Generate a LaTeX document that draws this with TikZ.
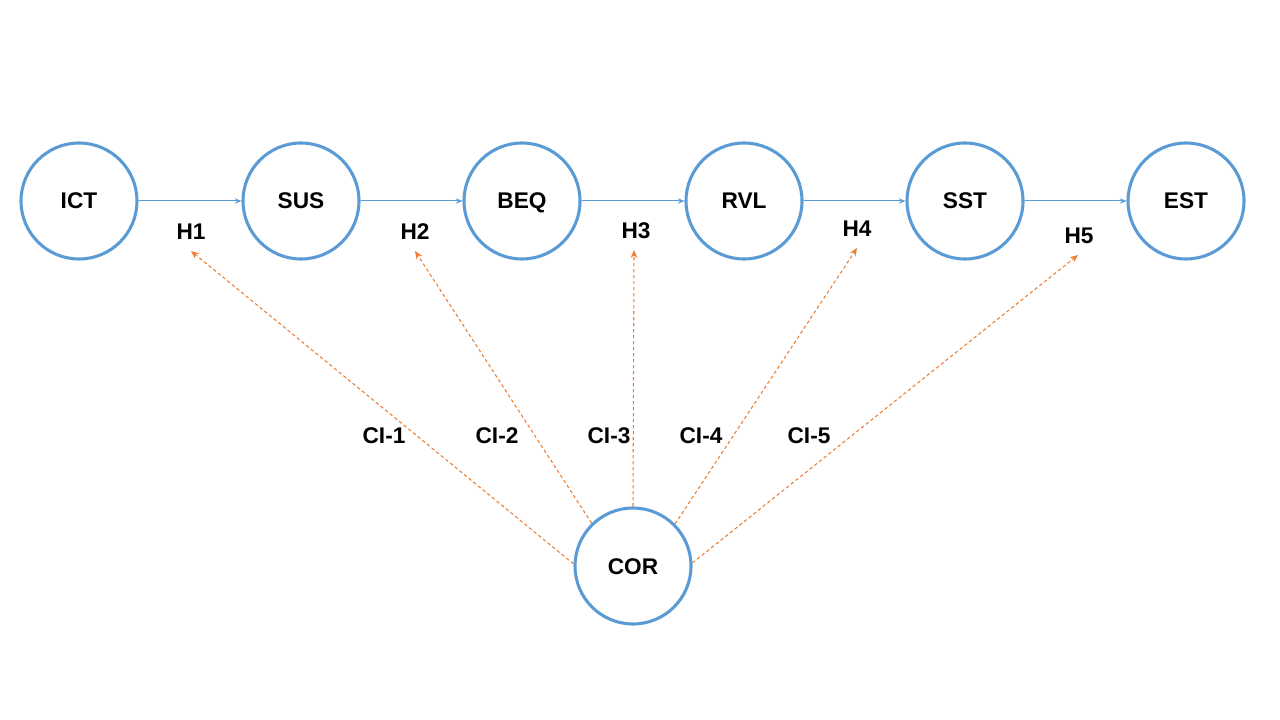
\documentclass[tikz,border=0pt]{standalone}
\usepackage{fontspec}
\setmainfont{Liberation Sans}
\usetikzlibrary{arrows.meta}
\definecolor{cblue}{RGB}{91,155,213}
\definecolor{corange}{RGB}{237,125,49}
\begin{document}
\begin{tikzpicture}[x=0.75pt,y=-0.75pt,
  var/.style={circle,draw=cblue,line width=2.3pt,fill=white,minimum size=87pt,inner sep=0pt,text height=12pt,text depth=0pt,font=\fontsize{17}{19}\selectfont\bfseries},
  lbl/.style={font=\fontsize{17}{19}\selectfont\bfseries,inner sep=0pt},
  path/.style={draw=cblue,line width=0.75pt,-{Stealth[length=5pt,width=4pt]}},
  ci/.style={draw=corange,line width=0.8pt,dash pattern=on 2.5pt off 2pt,-{Stealth[length=6pt,width=5pt]}}]
\useasboundingbox (0,0) rectangle (1280,720);
\node[var] (ICT) at (79,201) {ICT};
\node[var] (SUS) at (301,201) {SUS};
\node[var] (BEQ) at (522,201) {BEQ};
\node[var] (RVL) at (744,201) {RVL};
\node[var] (SST) at (965,201) {SST};
\node[var] (EST) at (1186,201) {EST};
\node[var] (COR) at (633,566) {COR};
\draw[path] (ICT) -- (SUS);
\draw[path] (SUS) -- (BEQ);
\draw[path] (BEQ) -- (RVL);
\draw[path] (RVL) -- (SST);
\draw[path] (SST) -- (EST);
\node[lbl] (H1) at (191,232) {H1};
\node[lbl] (H2) at (415,232) {H2};
\node[lbl] (H3) at (636,231) {H3};
\node[lbl] (H4) at (857,229) {H4};
\node[lbl] (H5) at (1079,236) {H5};
\coordinate (t1) at (191,251);
\coordinate (t2) at (415,251);
\coordinate (t3) at (634,250);
\coordinate (t4) at (857,248);
\coordinate (t5) at (1078,255);
\draw[ci] (COR.178) -- (t1);
\draw[ci] (COR.134) -- (t2);
\draw[ci] (COR.90) -- (t3);
\draw[ci] (COR.45) -- (t4);
\draw[ci] (COR.3) -- (t5);
\node[lbl] (CI1) at (384,436) {CI-1};
\node[lbl] (CI2) at (497,436) {CI-2};
\node[lbl] (CI3) at (609,436) {CI-3};
\node[lbl] (CI4) at (701,436) {CI-4};
\node[lbl] (CI5) at (809,436) {CI-5};
\end{tikzpicture}
\end{document}
